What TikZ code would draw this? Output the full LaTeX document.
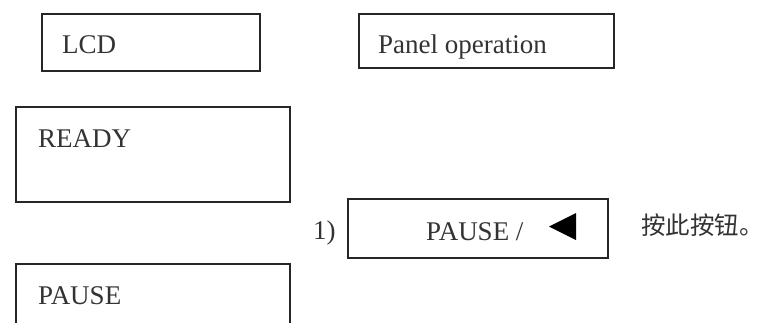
\documentclass[tikz,border=0pt]{standalone}
\usepackage{fontspec}
\setmainfont{Liberation Serif}
\newfontfamily\cjk{Noto Sans CJK SC}
\begin{document}
\begin{tikzpicture}[x=1pt,y=-1pt,
  box/.style={draw=black!85,line width=1.6pt,inner sep=0pt,rectangle},
  lbl/.style={anchor=base west,inner sep=0pt,text=black!80,font=\fontsize{27}{31}\selectfont}]
\useasboundingbox (0,0) rectangle (766,322);
\fill[white] (0,0) rectangle (766,322);
% boxes
\node[box,minimum width=218pt,minimum height=57pt] (lcd) at (151,42.5) {};
\node[box,minimum width=255pt,minimum height=54pt] (panel) at (486.5,41) {};
\node[box,minimum width=274pt,minimum height=95pt] (ready) at (153,154.5) {};
\node[box,minimum width=260pt,minimum height=59pt] (btn) at (478,228.5) {};
\node[box,minimum width=274pt,minimum height=100pt] (pause) at (153,314) {};
% texts
\node[lbl] (tlcd) at (62,53) {LCD};
\node[lbl] (tpanel) at (378,53) {Panel operation};
\node[lbl] (tready) at (38,147) {READY};
\node[lbl] (tpause) at (38,304) {PAUSE};
\node[lbl] (tnum) at (313,239) {1)};
\node[lbl] (tbtn) at (426,240) {PAUSE /};
\node[anchor=base west,inner sep=0pt,text=black!80,font=\cjk\fontsize{24.5}{29}\selectfont] (tcn) at (641,234) {按此按钮。};
% triangle
\fill[black] (576,213) -- (576,240) -- (549,226.5) -- cycle;
\end{tikzpicture}
\end{document}
